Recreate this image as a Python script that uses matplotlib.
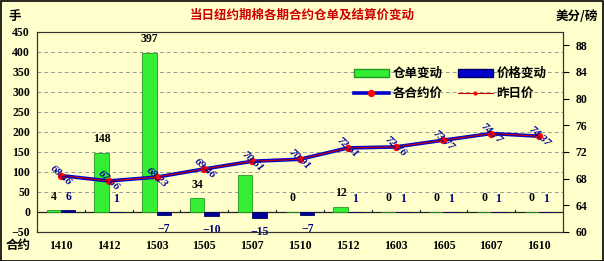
import matplotlib
matplotlib.use("Agg")
import matplotlib.pyplot as plt
import numpy as np
from matplotlib.patches import Patch, Rectangle
from matplotlib.lines import Line2D

plt.rcParams['font.family'] = ['Noto Sans CJK SC', 'DejaVu Sans']

contracts = ['1410', '1412', '1503', '1505', '1507', '1510', '1512', '1603', '1605', '1607', '1610']
warrant_change = [4, 148, 397, 34, 92, 0, 12, 0, 0, 0, 0]
price_change = [6, 1, -7, -10, -15, -7, 1, 1, 1, 1, 1]
settle_price = [68.46, 67.66, 68.23, 69.46, 70.61, 70.91, 72.61, 72.76, 73.77, 74.77, 74.37]
prev_price = [68.46, 67.66, 68.23, 69.46, 70.61, 70.91, 72.61, 72.76, 73.77, 74.77, 74.37]
warrant_labels = ['4', '148', '397', '34', '', '0', '12', '0', '0', '0', '0']
price_labels = ['6', '1', '−7', '−10', '−15', '−7', '1', '1', '1', '1', '1']

BG = '#FFFFCC'
W, H = 604, 261
fig = plt.figure(figsize=(W / 100, H / 100), dpi=100, facecolor=BG)
ax = fig.add_axes([37 / W, 1 - 232 / H, 526 / W, 200 / H], facecolor=BG)
ax2 = ax.twinx()

x = np.arange(len(contracts))
bw = 0.3
numfont = dict(family='Liberation Serif', fontweight='bold')

ax.bar(x - bw / 2, warrant_change, width=bw, color='#33EE33', edgecolor='#229922', linewidth=0.6, zorder=3)
ax.bar(x + bw / 2, price_change, width=bw, color='#000099', edgecolor='#000066', linewidth=0.6, zorder=3)

ax.set_xlim(-0.5, len(contracts) - 0.5)
ax.set_ylim(-50, 450)
ax.set_yticks(np.arange(-50, 451, 50))
for v in range(50, 401, 50):
    ax.axhline(v, color='#999999', lw=0.7, ls=(0, (4, 3)), zorder=1)
ax.axhline(0, color='#222222', lw=0.9, zorder=2)
for b in np.arange(0.5, len(contracts) - 0.5, 1):
    ax.plot([b, b], [0, 6], color='#222222', lw=0.8, zorder=2)

for i in range(len(contracts)):
    if warrant_labels[i]:
        ax.annotate(warrant_labels[i], (x[i] - bw / 2, max(warrant_change[i], 0)), xytext=(0, 10),
                    textcoords='offset points', ha='center', va='center', fontsize=8.5, color='black', **numfont)
    pv = price_change[i]
    off = 9 if pv >= 0 else -10
    ax.annotate(price_labels[i], (x[i] + bw / 2, pv), xytext=(0, off),
                textcoords='offset points', ha='center', va='center', fontsize=8.5, color='#000080', **numfont)

ax.set_xticks(x)
ax.set_xticklabels(contracts, fontsize=8.5, **numfont)
ax.tick_params(axis='x', length=0, pad=6)
ax.tick_params(axis='y', length=0, pad=5, labelsize=8.5)
for lab in ax.get_yticklabels():
    lab.set_fontfamily('Liberation Serif')
    lab.set_fontweight('bold')

ax2.plot(x, settle_price, color='#0000CC', lw=2.6, marker='o', ms=4.2, mfc='red', mec='red', zorder=4)
ax2.plot(x, prev_price, color='#CC0000', lw=0.8, marker='o', ms=2, mfc='red', mec='red', zorder=5)
ax2.set_ylim(60, 90)
ax2.set_yticks(np.arange(60, 89, 4))
ax2.tick_params(axis='y', length=4, width=0.8, pad=5, labelsize=8.5)
for lab in ax2.get_yticklabels():
    lab.set_fontfamily('Liberation Serif')
    lab.set_fontweight('bold')
for i in range(len(contracts)):
    ax2.text(x[i], settle_price[i], f'{settle_price[i]:.2f}', rotation=-42, ha='center', va='center',
             fontsize=8, color='#000099', fontstyle='italic', rotation_mode='anchor', zorder=6, **numfont)

for a in (ax, ax2):
    for s in a.spines.values():
        s.set_color('#333333')
        s.set_linewidth(0.8)
ax.spines['top'].set_color('#888888')

handles = [Patch(facecolor='#33EE33', edgecolor='#229922'),
           Line2D([], [], color='#0000CC', lw=2.6, marker='o', ms=4.2, mfc='red', mec='red'),
           Patch(facecolor='#0000CC', edgecolor='#000066'),
           Line2D([], [], color='#CC0000', lw=0.8, marker='o', ms=2, mfc='red', mec='red')]
labels = ['仓单变动', '各合约价', '价格变动', '昨日价']
leg = ax.legend(handles, labels, ncol=2, loc='upper right', bbox_to_anchor=(0.99, 0.88), frameon=False,
                prop=dict(family='Noto Sans CJK SC', weight='bold', size=9), handlelength=2.8,
                columnspacing=1.2, handletextpad=0.3, labelspacing=0.55)

fig.text(0.5, 1 - 15 / H, '当日纽约期棉各期合约仓单及结算价变动', ha='center', va='center', color='#CC0000',
         fontsize=9, fontweight='bold')
fig.text(8 / W, 1 - 16 / H, '手', ha='left', va='center', fontsize=9, fontweight='bold')
fig.text(598 / W, 1 - 16 / H, '美分/磅', ha='right', va='center', fontsize=9, fontweight='bold')
fig.text(6 / W, 1 - 245 / H, '合约', ha='left', va='center', fontsize=9, fontweight='bold')

fig.add_artist(Rectangle((0.5 / W, 0.5 / H), 1 - 1.5 / W, 1 - 1.5 / H, transform=fig.transFigure,
                         fill=False, edgecolor='black', lw=1.2))

fig.savefig('out.png', dpi=100, facecolor=BG)
